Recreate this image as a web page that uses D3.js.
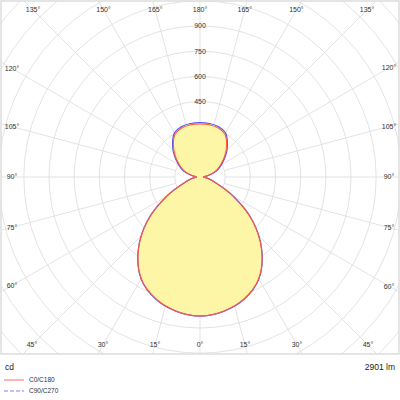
<!DOCTYPE html>
<html><head><meta charset="utf-8">
<script src="https://cdn.jsdelivr.net/npm/d3@7"></script>
<style>body{margin:0;background:#fff}svg{display:block}</style>
</head><body>
<script>
const angles = [0,10,20,30,40,50,60,70,80,90,100,110,120,130,140,150,160,170,180];
const c0c180 = [828,812,772,700,572,410,228,97,46,20,46,97,140,192,247,296,312,316,316];
const c90c270 = [829,813,774,702,574,412,230,99,48,22,50,104,148,200,255,304,320,324,324];
const ringValues = [150,300,450,600,750,900,1050,1200,1350,1500,1650,1800,1950,2100];
const ringLabels = [450,600,750,900];
const spokeAngles = d3.range(0,360,15);
const angleLabels = [0,15,30,45,60,75,90,105,120,135,150,165,180];
const fluxText = "2901 lm";
const unitText = "cd";
const legendNames = ["C0/C180","C90/C270"];

const W=400,H=400, cx=200, cy=177;
const svg=d3.select("body").append("svg").attr("width",W).attr("height",H);
const r=d3.scaleLinear().domain([0,900]).range([0,151]);

svg.append("defs").append("clipPath").attr("id","clip")
  .append("rect").attr("x",1).attr("y",1).attr("width",398).attr("height",353);

const g=svg.append("g").attr("clip-path","url(#clip)");

function pts(vals){
  const p=[];
  angles.forEach((a,i)=>p.push([Math.PI - a*Math.PI/180, r(vals[i])]));
  for(let i=angles.length-2;i>0;i--) p.push([Math.PI + angles[i]*Math.PI/180, r(vals[i])]);
  return p;
}
const line=d3.lineRadial().angle(d=>d[0]).radius(d=>d[1]).curve(d3.curveCatmullRomClosed.alpha(0.5));

const plot=g.append("g").attr("transform",`translate(${cx},${cy})`);
plot.append("path").attr("d",line(pts(c90c270))).attr("fill","#fdf6a6").attr("stroke","none");

const grid=g.append("g").attr("transform",`translate(${cx},${cy})`);
grid.selectAll("circle").data(ringValues).join("circle")
  .attr("r",d=>r(d)).attr("fill","none").attr("stroke","#dcdcdc").attr("stroke-width",0.8);
grid.selectAll("line").data(spokeAngles).join("line")
  .attr("x1",d=>r(150)*Math.sin(d*Math.PI/180)).attr("y1",d=>r(150)*Math.cos(d*Math.PI/180))
  .attr("x2",d=>400*Math.sin(d*Math.PI/180)).attr("y2",d=>400*Math.cos(d*Math.PI/180))
  .attr("stroke","#dcdcdc").attr("stroke-width",0.8);

plot.raise();
plot.append("path").attr("d",line(pts(c90c270))).attr("fill","none").attr("stroke","#5555ff").attr("stroke-width",1.2);
plot.append("path").attr("d",line(pts(c0c180))).attr("fill","none").attr("stroke","#ff5a3c").attr("stroke-width",1.1);

svg.append("rect").attr("x",1).attr("y",1).attr("width",398).attr("height",353)
  .attr("fill","none").attr("stroke","#dddddd").attr("stroke-width",1.5);

const font="Liberation Sans, Arial, sans-serif";
svg.selectAll("text.rl").data(ringLabels).join("text").attr("class","rl")
  .attr("x",cx).attr("y",d=>cy-r(d)).attr("dy","0.35em").attr("text-anchor","middle")
  .attr("font-family",font).attr("font-size",7).attr("fill","#333").text(d=>d);

const L=12,R=389,T=10,B=345;
function labelPos(a, side){
  const t=a*Math.PI/180;
  const dx=Math.sin(t)*side, dy=Math.cos(t);
  let k=Infinity;
  if(dy>1e-9) k=Math.min(k,(B-cy)/dy);
  if(dy<-1e-9) k=Math.min(k,(T-cy)/dy);
  if(dx>1e-9) k=Math.min(k,(R-cx)/dx);
  if(dx<-1e-9) k=Math.min(k,(L-cx)/dx);
  return [cx+dx*k, cy+dy*k];
}
const alab=[];
angleLabels.forEach(a=>{
  alab.push({a,p:labelPos(a,-1)});
  if(a!==0 && a!==180) alab.push({a,p:labelPos(a,1)});
});
svg.selectAll("text.al").data(alab).join("text").attr("class","al")
  .attr("x",d=>d.p[0]).attr("y",d=>d.p[1]).attr("dy","0.35em").attr("text-anchor","middle")
  .attr("font-family",font).attr("font-size",7).attr("fill","#333").text(d=>d.a+"°");

svg.append("text").attr("x",5).attr("y",367).attr("dy","0.35em").attr("font-family",font)
  .attr("font-size",8.5).attr("fill","#222").text(unitText);
svg.append("text").attr("x",395).attr("y",367).attr("dy","0.35em").attr("text-anchor","end").attr("font-family",font)
  .attr("font-size",8.5).attr("fill","#222").text(fluxText);

const leg=[{n:legendNames[0],c:"#ff8080",dash:null,y:380},{n:legendNames[1],c:"#8080ff",dash:"4,2",y:391}];
leg.forEach(d=>{
  svg.append("line").attr("x1",4).attr("x2",24).attr("y1",d.y).attr("y2",d.y)
    .attr("stroke",d.c).attr("stroke-width",1.2).attr("stroke-dasharray",d.dash);
  svg.append("text").attr("x",29).attr("y",d.y).attr("dy","0.35em").attr("font-family",font)
    .attr("font-size",6.5).attr("fill","#333").text(d.n);
});
</script>
</body></html>
